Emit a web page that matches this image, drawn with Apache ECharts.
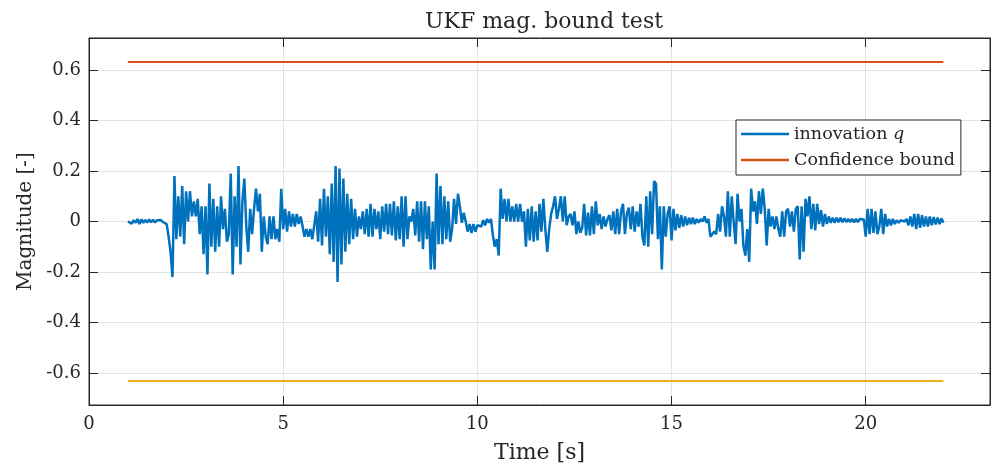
<!DOCTYPE html>
<html>
<head>
<meta charset="utf-8">
<script src="https://cdn.jsdelivr.net/npm/echarts@6/dist/echarts.min.js"></script>
<style>
html, body { margin: 0; padding: 0; background: #fff; }
#chart { width: 992px; height: 470px; }
</style>
</head>
<body>
<div id="chart"></div>
<script>
// innovation q, sampled every 0.05 s from t = 1 s (one row = 1 s)
var sampleStart = 1;
var sampleStep = 0.05;
var innovationQ = [
  0, 0.003, -0.008, 0.005, -0.005, 0.01, -0.01, 0.008, -0.005, 0.006, -0.004, 0.008, -0.003, 0.007, -0.004, 0.005, -0.002, 0.006, -0.002, 0.005,
  -0.01, -0.06, -0.12, -0.22, 0.18, -0.07, 0.10, -0.06, 0.14, -0.09, 0.12, 0.0, 0.12, 0.02, 0.08, 0.02, 0.09, -0.05, 0.06, -0.13,
  0.06, -0.21, 0.15, -0.1, 0.09, -0.12, 0.06, -0.1, 0.10, -0.03, 0.05, -0.08, -0.05, 0.19, -0.21, 0.1, -0.1, 0.22, -0.17, 0.08,
  0.17, -0.02, -0.12, 0.05, -0.05, 0.05, 0.13, 0.04, 0.11, -0.12, 0.02, -0.06, -0.09, 0.02, -0.07, 0.02, -0.07, -0.03, -0.08, 0.13,
  -0.03, 0.05, -0.04, 0.04, -0.02, 0.03, -0.02, 0.03, -0.01, 0.02, -0.02, -0.06, -0.03, -0.06, -0.03, -0.07, -0.075, 0.04, -0.08, 0.09,
  -0.095, 0.13, -0.06, 0.10, -0.13, 0.15, -0.16, 0.22, -0.24, 0.21, -0.17, 0.17, -0.12, 0.11, -0.09, 0.09, -0.07, 0.05, -0.06, 0.02,
  -0.03, 0.04, -0.05, 0.05, -0.06, 0.07, -0.06, 0.05, -0.03, 0.04, -0.07, 0.06, -0.04, 0.07, -0.05, 0.07, -0.055, 0.08, -0.075, 0.06,
  -0.07, 0.10, -0.1, 0.10, -0.07, 0.02, 0.0, 0.05, -0.055, 0.08, -0.08, 0.08, -0.11, 0.08, -0.07, 0.06, -0.19, 0.0, -0.19, 0.19,
  -0.09, 0.14, -0.09, 0.10, -0.07, 0.08, -0.08, -0.03, 0.09, -0.01, 0.11, 0.06, -0.005, 0.035, 0.0, -0.04, -0.01, -0.045, -0.01, -0.04,
  -0.015, -0.01, -0.02, 0.005, -0.015, 0.01, -0.005, 0.01, -0.055, -0.1, -0.07, -0.135, 0.13, 0.01, 0.09, 0.0, 0.09, 0.0, 0.06, 0.0,
  0.07, 0.0, 0.07, 0.0, 0.04, -0.1, 0.05, -0.075, 0.06, -0.08, 0.04, -0.075, 0.07, -0.04, 0.09, -0.03, -0.12, -0.03, 0.03, 0.06,
  0.1, 0.01, 0.05, 0.1, 0.0, 0.1, -0.015, 0.02, 0.03, -0.015, 0.04, -0.05, 0.0, -0.045, -0.025, 0.07, -0.055, 0.035, -0.055, 0.06,
  -0.05, 0.08, -0.015, 0.03, -0.03, 0.02, -0.02, 0.01, 0.025, -0.035, 0.04, -0.05, 0.05, -0.05, 0.04, 0.07, -0.05, 0.03, 0.055, -0.03,
  0.06, -0.04, 0.04, -0.02, 0.07, -0.06, -0.095, 0.1, -0.1, 0.12, -0.05, 0.16, 0.15, -0.07, 0.06, -0.19, 0.06, -0.06, 0.03, 0.06,
  -0.075, 0.05, -0.035, 0.03, -0.025, 0.025, -0.02, 0.02, -0.015, 0.015, -0.01, 0.015, -0.01, 0.01, -0.005, 0.01, 0.0, 0.02, -0.005, 0.01,
  -0.06, -0.065, -0.04, -0.05, 0.03, -0.04, 0.06, 0.02, -0.06, 0.12, -0.06, 0.1, 0.0, -0.09, 0.11, 0.0, 0.05, -0.095, -0.135, -0.03,
  -0.16, 0.13, 0.04, 0.08, -0.01, 0.12, 0.03, 0.13, 0.05, -0.095, 0.05, -0.02, 0.02, -0.03, 0.02, -0.03, -0.06, 0.04, -0.06, 0.04,
  0.05, -0.02, 0.04, -0.04, 0.05, 0.06, -0.15, 0.06, -0.12, 0.09, 0.02, 0.1, -0.03, 0.07, -0.035, 0.07, -0.01, 0.045, -0.02, 0.03,
  -0.01, 0.02, -0.005, 0.015, -0.005, 0.015, -0.003, 0.015, -0.003, 0.012, -0.002, 0.01, -0.002, 0.01, -0.003, 0.01, -0.002, 0.01, 0.005, 0.008,
  -0.06, 0.05, -0.05, 0.05, -0.045, 0.04, -0.05, -0.02, 0.05, -0.05, 0.03, -0.02, 0.01, -0.015, 0.01, -0.01, 0.005, -0.005, 0.005, 0.01,
  0.0, 0.01, -0.015, 0.02, -0.02, 0.03, -0.03, 0.03, -0.025, 0.025, -0.02, 0.02, -0.02, 0.02, -0.015, 0.018, -0.012, 0.015, -0.01, 0.012,
  -0.005
];

// confidence bound lines
var boundTimes = [1, 22];
var upperBound = [0.632, 0.632];
var lowerBound = [-0.632, -0.632];

var xLimits = [0, 23.2];
var yLimits = [-0.727, 0.727];

var qData = innovationQ.map(function (v, i) { return [sampleStart + i * sampleStep, v]; });
var upData = boundTimes.map(function (t, i) { return [t, upperBound[i]]; });
var lowData = boundTimes.map(function (t, i) { return [t, lowerBound[i]]; });

var serif = 'DejaVu Serif';
var ink = '#262626';

var chart = echarts.init(document.getElementById('chart'));
var option = {
  animation: false,
  backgroundColor: '#ffffff',
  title: {
    text: 'UKF mag. bound test',
    left: 539, textAlign: 'center',
    top: 4,
    textStyle: { fontFamily: serif, fontSize: 22, fontWeight: 'normal', color: ink, lineHeight: 26 }
  },
  legend: {
    data: ['innovation q', 'Confidence bound'],
    orient: 'vertical',
    left: 736, top: 120,
    padding: [4, 6, 5, 5],
    itemGap: 6,
    itemWidth: 48, itemHeight: 2.5,
    icon: 'rect',
    backgroundColor: '#ffffff',
    borderColor: ink, borderWidth: 1,
    borderRadius: 0,
    formatter: function (name) {
      return name === 'innovation q' ? 'innovation {i|q}' : name;
    },
    textStyle: {
      fontFamily: serif, fontSize: 17.5, color: ink, lineHeight: 20,
      rich: { i: { fontFamily: serif, fontSize: 17.5, fontStyle: 'italic', color: ink, lineHeight: 20 } }
    }
  },
  grid: {
    left: 89, right: 2, top: 38, bottom: 65,
    show: true, borderColor: ink, borderWidth: 1, backgroundColor: 'transparent'
  },
  xAxis: [{
    type: 'value',
    min: xLimits[0], max: xLimits[1], interval: 5,
    name: 'Time [s]', nameLocation: 'middle', nameGap: 37,
    nameTextStyle: { fontFamily: serif, fontSize: 22, color: ink },
    axisLine: { show: true, onZero: false, lineStyle: { color: ink, width: 1 } },
    axisTick: { show: true, inside: true, length: 9, lineStyle: { color: ink } },
    axisLabel: { fontFamily: serif, fontSize: 18, color: ink, margin: 10, showMaxLabel: false },
    splitLine: { show: true, lineStyle: { color: '#e3e3e3', width: 1 } }
  }, {
    type: 'value', position: 'top',
    min: xLimits[0], max: xLimits[1], interval: 5,
    axisLine: { show: true, onZero: false, lineStyle: { color: ink, width: 1 } },
    axisTick: { show: true, inside: true, length: 9, lineStyle: { color: ink } },
    axisLabel: { show: false },
    splitLine: { show: false }
  }],
  yAxis: [{
    type: 'value',
    min: yLimits[0], max: yLimits[1],
    minInterval: 0.2, maxInterval: 0.2, splitNumber: 7,
    name: 'Magnitude [-]', nameLocation: 'middle', nameGap: 53,
    nameTextStyle: { fontFamily: serif, fontSize: 20, color: ink },
    axisLine: { show: true, onZero: false, lineStyle: { color: ink, width: 1 } },
    axisTick: { show: true, inside: true, length: 9, lineStyle: { color: ink } },
    axisLabel: { fontFamily: serif, fontSize: 18, color: ink, margin: 8, showMinLabel: false, showMaxLabel: false },
    splitLine: { show: true, lineStyle: { color: '#e3e3e3', width: 1 } }
  }, {
    type: 'value', position: 'right',
    min: yLimits[0], max: yLimits[1],
    minInterval: 0.2, maxInterval: 0.2, splitNumber: 7,
    axisLine: { show: true, onZero: false, lineStyle: { color: ink, width: 1 } },
    axisTick: { show: true, inside: true, length: 9, lineStyle: { color: ink } },
    axisLabel: { show: false },
    splitLine: { show: false }
  }],
  series: [{
    name: 'innovation q',
    type: 'line',
    data: qData,
    showSymbol: false,
    color: '#0072BD',
    lineStyle: { color: '#0072BD', width: 2.5 },
    z: 3
  }, {
    name: 'Confidence bound',
    type: 'line',
    data: upData,
    showSymbol: false,
    color: '#D95319',
    lineStyle: { color: '#D95319', width: 2.2 },
    z: 2
  }, {
    name: 'lower bound',
    type: 'line',
    data: lowData,
    showSymbol: false,
    color: '#EDB120',
    lineStyle: { color: '#EDB120', width: 2.2 },
    z: 2
  }]
};
chart.setOption(option);
</script>
</body>
</html>
